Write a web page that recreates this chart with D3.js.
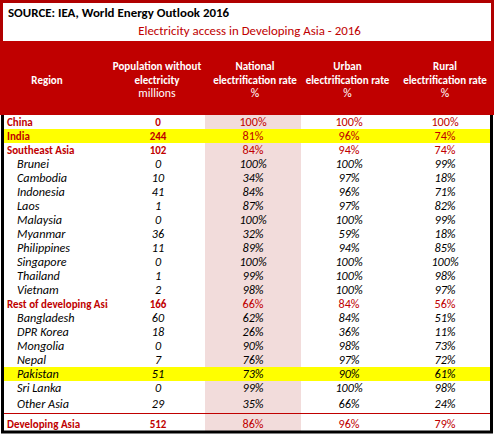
<!DOCTYPE html>
<html><head><meta charset="utf-8">
<script src="https://cdn.jsdelivr.net/npm/d3@7"></script>
<style>html,body{margin:0;padding:0;background:#fff}svg{display:block}</style>
</head><body>
<svg id="chart" width="497" height="437"></svg>
<script>
const sourceText = "SOURCE: IEA, World Energy Outlook 2016";
const titleText = "Electricity access in Developing Asia - 2016";
const regions = ["China","India","Southeast Asia","Brunei","Cambodia","Indonesia","Laos","Malaysia","Myanmar","Philippines","Singapore","Thailand","Vietnam","Rest of developing Asia","Bangladesh","DPR Korea","Mongolia","Nepal","Pakistan","Sri Lanka","Other Asia","Developing Asia"];
const rowLevel = ["group","group","group","country","country","country","country","country","country","country","country","country","country","group","country","country","country","country","country","country","country","total"];
const population = [0,244,102,0,10,41,1,0,36,11,0,1,2,166,60,18,0,7,51,0,29,512];
const national = [100,81,84,100,34,84,87,100,32,89,100,99,98,66,62,26,90,76,73,99,35,86];
const urban = [100,96,94,100,97,96,97,100,59,94,100,100,100,84,84,36,98,97,90,100,66,96];
const rural = [100,74,74,99,18,71,82,99,18,85,100,98,97,56,51,11,73,72,61,98,24,79];
const highlighted = ["India","Pakistan"];
const columnKeys = ["population","national","urban","rural"];
const headerRegion = "Region";
const headerLines = {
  population: ["Population without","electricity","millions"],
  national: ["National","electrification rate","%"],
  urban: ["Urban","electrification rate","%"],
  rural: ["Rural","electrification rate","%"]
};

const svg = d3.select("#chart");
const FONT = "Carlito, Lato, 'Open Sans', sans-serif";
const RED = "#c00000";
const DARKRED = "#b00000";

// layout
const headerTop = 41, bodyTop = 115;
const rowH = regions.map((r, i) => (i >= regions.length - 2 ? 18 : 14));
const rowTops = d3.cumsum([0, ...rowH]).map(v => bodyTop + v);
const bodyBottom = rowTops[regions.length];
const x = d3.scalePoint().domain(columnKeys).range([157, 445]);
const headerShift = {population: 0, national: 2, urban: -1.5, rural: 0};
const valueShift = {population: 1, national: 0, urban: 0, rural: 0};
const natBand = {x0: 205, x1: 301};

// title box
svg.append("rect").attr("x", 1.5).attr("y", 1.5).attr("width", 491).attr("height", headerTop)
  .attr("fill", "#fff").attr("stroke", DARKRED).attr("stroke-width", 3);
svg.append("text").attr("x", 8).attr("y", 17).text(sourceText)
  .attr("font-family", FONT).attr("font-weight", "bold").attr("font-size", 12.9).attr("fill", "#000");
svg.append("text").attr("x", 249.5).attr("y", 34.5).attr("text-anchor", "middle").text(titleText)
  .attr("font-family", FONT).attr("font-size", 12.9).attr("fill", RED);

// header band
svg.append("rect").attr("x", 0).attr("y", headerTop).attr("width", 494).attr("height", bodyTop - headerTop).attr("fill", RED);
const hg = svg.append("g").attr("font-family", FONT).attr("fill", "#fff").attr("text-anchor", "middle");
hg.append("text").attr("x", 47).attr("y", 84).attr("font-weight", "bold").attr("font-size", 11).text(headerRegion);
columnKeys.forEach(k => {
  headerLines[k].forEach((line, j) => {
    hg.append("text").attr("x", x(k) + headerShift[k]).attr("y", 70 + j * 13.5)
      .attr("font-weight", j < 2 ? "bold" : "normal")
      .attr("font-size", j < 2 ? 11 : 11.8).text(line);
  });
});

// body background
svg.append("rect").attr("x", 3).attr("y", bodyTop).attr("width", 488).attr("height", bodyBottom - bodyTop).attr("fill", "#fff");
svg.append("rect").attr("x", natBand.x0).attr("y", bodyTop).attr("width", natBand.x1 - natBand.x0)
  .attr("height", bodyBottom - bodyTop).attr("fill", "#f2dcdb");

// highlighted rows
regions.forEach((r, i) => {
  if (highlighted.includes(r)) {
    svg.append("rect").attr("x", 3).attr("y", rowTops[i]).attr("width", 488).attr("height", rowH[i]).attr("fill", "#ffff00");
  }
});

// separator above total
svg.append("line").attr("x1", 3).attr("x2", 491).attr("y1", rowTops[regions.length - 1] + 0.5).attr("y2", rowTops[regions.length - 1] + 0.5)
  .attr("stroke", RED).attr("stroke-width", 1);

// clip for region column
svg.append("clipPath").attr("id", "regclip").append("rect").attr("x", 0).attr("y", 0).attr("width", 108).attr("height", 437);

const body = svg.append("g").attr("font-family", FONT);
const rows = body.selectAll("g.row").data(regions.map((r, i) => ({
  name: r, level: rowLevel[i], population: population[i], national: national[i], urban: urban[i], rural: rural[i], i
}))).join("g").attr("class", "row");

rows.each(function(d) {
  const g = d3.select(this);
  const isGroup = d.level !== "country";
  const cy = rowTops[d.i] + rowH[d.i] / 2 + 4 + (d.level === "total" ? 1.5 : 0);
  const fill = isGroup ? RED : "#000";
  g.append("text").attr("clip-path", "url(#regclip)")
    .attr("x", isGroup ? 7 : 17).attr("y", cy).text(d.name)
    .attr("fill", fill).attr("font-weight", isGroup ? "bold" : "normal")
    .attr("font-size", isGroup ? 11 : 12.2)
    .attr("font-style", isGroup ? "normal" : "italic");
  columnKeys.forEach(k => {
    const bold = isGroup && k === "population";
    g.append("text").attr("x", x(k) + valueShift[k])
      .attr("y", cy).attr("text-anchor", "middle")
      .text(k === "population" ? d[k] : d[k] + "%")
      .attr("fill", fill)
      .attr("font-size", bold ? 11 : 12.2)
      .attr("font-weight", bold ? "bold" : "normal")
      .attr("font-style", isGroup ? "normal" : "italic");
  });
});

// borders of body
svg.append("path").attr("d", `M2.5,${bodyTop} V${bodyBottom + 1} H491.5 V${bodyTop}`)
  .attr("fill", "none").attr("stroke", "#000").attr("stroke-width", 3);
</script>
</body></html>
